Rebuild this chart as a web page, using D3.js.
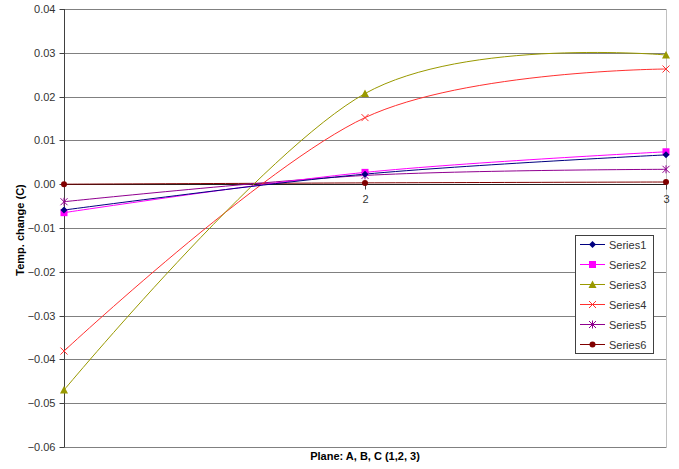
<!DOCTYPE html>
<html><head><meta charset="utf-8">
<script src="https://cdn.jsdelivr.net/npm/d3@7"></script>
<style>body{margin:0;background:#fff}svg{display:block}</style>
</head><body>
<svg id="c" width="679" height="469"></svg>
<script>
const categories = ["1", "2", "3"];
const seriesNames = ["Series1","Series2","Series3","Series4","Series5","Series6"];
const series1 = [-0.0059, 0.0023, 0.0067];
const series2 = [-0.0065, 0.0027, 0.0074];
const series3 = [-0.0470, 0.0207, 0.0295];
const series4 = [-0.0381, 0.0152, 0.0263];
const series5 = [-0.0040, 0.0020, 0.0034];
const series6 = [0.0000, 0.0003, 0.0005];
const yTicks = [0.04,0.03,0.02,0.01,0,-0.01,-0.02,-0.03,-0.04,-0.05,-0.06];
const xTickLabels = ["2","3"];
const colors = ["#000080","#ff00ff","#999900","#ff3030","#900090","#800000"];
const markers = ["diamond","square","triangle","x","star","circle"];
const allSeries = [series1,series2,series3,series4,series5,series6];

const svg = d3.select("#c");
const L=64, R=666, T=9, B=447;
const x = d3.scalePoint().domain(categories).range([L,R]);
const y = d3.scaleLinear().domain([-0.06,0.04]).range([B,T]);

// plot border
svg.append("rect").attr("x",L+0.5).attr("y",T+0.5).attr("width",R-L).attr("height",B-T)
  .attr("fill","#fff").attr("stroke","#c0c0c0");
// gridlines
svg.append("g").selectAll("line").data(yTicks).join("line")
  .attr("x1",L).attr("x2",R).attr("y1",d=>Math.round(y(d))+0.5).attr("y2",d=>Math.round(y(d))+0.5)
  .attr("stroke","#808080").attr("stroke-width",1);
// y axis
const ya = svg.append("g").attr("transform",`translate(${L+0.5},0)`)
  .call(d3.axisLeft(y).tickValues(yTicks).tickSize(5).tickPadding(4).tickFormat(d3.format(".2f")));
ya.select(".domain").attr("stroke","#404040").attr("d",`M0,${T}V${B}`);
ya.selectAll(".tick line").attr("stroke","#404040");
ya.selectAll(".tick text").attr("font-family","Liberation Sans, Arial, sans-serif").attr("font-size",11).attr("fill","#333");
ya.selectAll(".tick").attr("transform",d=>`translate(0,${Math.round(y(d))+0.5})`);
// x axis at zero
const y0 = Math.round(y(0))+0.5;
const xa = svg.append("g").attr("transform",`translate(0,${y0})`)
  .call(d3.axisBottom(x).tickValues(xTickLabels).tickSize(5).tickPadding(6));
xa.select(".domain").attr("stroke","#202020").attr("d",`M${L},0H${R}`);
xa.selectAll(".tick line").attr("stroke","#404040");
xa.selectAll(".tick text").attr("font-family","Liberation Sans, Arial, sans-serif").attr("font-size",11).attr("fill","#333");

// marker generator
function marker(g, type, color, cx, cy){
  if(type==="diamond") g.append("path").attr("d",`M${cx},${cy-3.5}L${cx+3.5},${cy}L${cx},${cy+3.5}L${cx-3.5},${cy}Z`).attr("fill",color);
  else if(type==="square") g.append("rect").attr("x",cx-3.5).attr("y",cy-3.5).attr("width",7).attr("height",7).attr("fill",color);
  else if(type==="triangle") g.append("path").attr("d",`M${cx},${cy-4}L${cx+4},${cy+3.5}L${cx-4},${cy+3.5}Z`).attr("fill",color);
  else if(type==="x") g.append("path").attr("d",`M${cx-3.5},${cy-3.5}L${cx+3.5},${cy+3.5}M${cx+3.5},${cy-3.5}L${cx-3.5},${cy+3.5}`).attr("stroke",color).attr("stroke-width",1);
  else if(type==="star") g.append("path").attr("d",`M${cx-3.5},${cy-3.5}L${cx+3.5},${cy+3.5}M${cx+3.5},${cy-3.5}L${cx-3.5},${cy+3.5}M${cx},${cy-4}V${cy+4}`).attr("stroke",color).attr("stroke-width",1);
  else g.append("circle").attr("cx",cx).attr("cy",cy).attr("r",3).attr("fill",color);
}

const line = d3.line().x((d,i)=>x(categories[i])).y(d=>y(d)).curve(d3.curveCardinal.tension(0));
const order = [5,4,3,2,1,0];
order.forEach(k=>{
  svg.append("path").datum(allSeries[k]).attr("d",line).attr("fill","none")
    .attr("stroke",colors[k]).attr("stroke-width",1);
});
order.forEach(k=>{
  const g = svg.append("g");
  allSeries[k].forEach((v,i)=>marker(g, markers[k], colors[k], x(categories[i]), y(v)));
});

// legend
const lg = svg.append("g");
lg.append("rect").attr("x",575.5).attr("y",235.5).attr("width",78).attr("height",118)
  .attr("fill","#fff").attr("stroke","#404040");
seriesNames.forEach((n,k)=>{
  const yy = 244.5 + k*20;
  lg.append("line").attr("x1",580).attr("x2",605).attr("y1",yy).attr("y2",yy).attr("stroke",colors[k]);
  marker(lg, markers[k], colors[k], 592.5, yy);
  lg.append("text").attr("x",609).attr("y",yy+4).text(n)
    .attr("font-family","Liberation Sans, Arial, sans-serif").attr("font-size",11).attr("fill","#333");
});

// titles
svg.append("text").attr("x",365).attr("y",460).attr("text-anchor","middle")
  .attr("font-family","Liberation Sans, Arial, sans-serif").attr("font-size",11).attr("font-weight","bold")
  .text("Plane: A, B, C (1,2, 3)");
svg.append("text").attr("transform","translate(24,230) rotate(-90)").attr("text-anchor","middle")
  .attr("font-family","Liberation Sans, Arial, sans-serif").attr("font-size",11).attr("font-weight","bold")
  .text("Temp. change (C)");
</script>
</body></html>
